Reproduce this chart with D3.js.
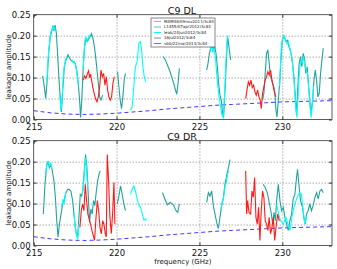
<!DOCTYPE html>
<html>
<head>
<meta charset="utf-8">
<script src="https://cdn.jsdelivr.net/npm/d3@7"></script>
<style>
   body { margin: 0; background: #fff; }
   svg { display: block; font-family: "DejaVu Sans", sans-serif; }
</style>
</head>
<body>
<svg id="chart" width="337" height="269"></svg>
<script>
// tick values
const freqTicks = [215, 220, 225, 230];
const ampTicks = [0.00, 0.05, 0.10, 0.15, 0.20, 0.25];

// legend entries (the red trace has no entry in the original)
const legendNames = ["MAM48/09nov2011/3c84", "L1455/07apr2012/3c84", "leak/24jun2012/3c84", "16jul2012/3c84", "vbb/22mar2013/3c84"];
const legendColors = ["#40e0d0", "#48c8c0", "#00ffff", "#5f9ea0", "#22a39c"];

// blue dashed reference curve (same in both panels)
const specCurve = [[215,0.021],[216,0.016],[217,0.013],[218,0.012],[219,0.013],[220,0.015],[221,0.018],[222,0.021],[223,0.025],
   [224,0.028],[225,0.031],[226,0.034],[227,0.036],[228,0.038],[229,0.040],[230,0.042],[231,0.043],[232,0.044],[233,0.045]];

// ---- C9 DL ----
const dlTeal = [
   [215.54,0.104],[215.64,0.078],[215.72,0.050],[215.80,0.086],[215.90,0.158],[216.00,0.197],[216.08,0.209],[216.14,0.221],[216.22,0.213],
   [216.29,0.225],[216.37,0.205],[216.45,0.150],[216.53,0.094],[216.61,0.046],[216.67,0.018],[216.75,0.070],[216.85,0.126],[216.95,0.142],
   [217.07,0.154],[217.17,0.146],[217.27,0.140],[217.39,0.138],[217.51,0.134],[217.61,0.114],[217.69,0.086],[217.77,0.046],[217.83,0.005],
   [217.91,0.054],[217.99,0.126],[218.07,0.174],[218.15,0.193],[218.23,0.186],[218.31,0.191],[218.39,0.197],[218.49,0.205],[218.59,0.191],
   [218.69,0.166],[218.80,0.126],[218.90,0.086],[218.98,0.054],[219.06,0.046],[219.16,0.058],
   null,
   [220.06,0.114],[220.14,0.078],[220.22,0.046],[220.30,0.026],[220.38,0.054],[220.46,0.094],[220.54,0.110],
   null,
   [222.81,0.150],[222.95,0.142],[223.11,0.126],[223.23,0.114],[223.39,0.094],[223.53,0.074],[223.63,0.060],[223.71,0.086],[223.79,0.122],
   null,
   [225.44,0.118],[225.52,0.134],[225.60,0.158],[225.68,0.170],[225.76,0.178],[225.84,0.166],[225.92,0.174],[226.00,0.158],[226.08,0.126],
   [226.16,0.086],[226.24,0.058],[226.32,0.046],[226.40,0.014],[226.46,0.006],[226.54,0.070],[226.62,0.134],[226.70,0.197],[226.76,0.181],
   [226.83,0.158],[226.89,0.142],
   null,
   [228.81,0.046],[228.89,0.062],[228.97,0.110],[229.05,0.158],[229.13,0.166],[229.21,0.134],[229.29,0.102],[229.38,0.090],[229.46,0.082],
   [229.54,0.070],[229.62,0.022],[229.68,0.006],[229.76,0.046],[229.84,0.086],[229.92,0.142],[230.00,0.189],[230.08,0.199],[230.16,0.193],
   [230.24,0.186],[230.32,0.189],[230.40,0.174],[230.48,0.166],[230.56,0.150],[230.64,0.126],[230.72,0.094],[230.80,0.046],[230.86,0.010],
   [230.94,0.078],[231.02,0.134],[231.10,0.150],[231.18,0.126],[231.26,0.158],[231.34,0.146],[231.42,0.110],[231.50,0.126],[231.58,0.086],
   [231.66,0.046],[231.74,0.014],[231.83,0.046],[231.91,0.094],[231.99,0.118],[232.07,0.094],[232.15,0.054],[232.23,0.062],[232.31,0.110],
   [232.39,0.142],[232.47,0.170]
];
const dlCyan = [
   [215.80,0.090],[215.86,0.140],[215.92,0.170],[216.00,0.200],[216.06,0.212],[216.12,0.215],[216.18,0.222],[216.24,0.214],[216.30,0.220],
   null,
   [216.58,0.060],[216.64,0.022],[216.70,0.040],[216.78,0.100],[216.86,0.132],[216.94,0.145],[217.00,0.150],
   null,
   [217.30,0.142],[217.38,0.135],[217.46,0.138],[217.54,0.128],[217.62,0.106],[217.70,0.080],
   null,
   [217.98,0.120],[218.04,0.160],[218.10,0.190],[218.16,0.196],[218.22,0.188],[218.28,0.194],[218.36,0.200],[218.42,0.196],
   null,
   [220.84,0.022],[220.94,0.030],[221.04,0.078],[221.14,0.126],[221.24,0.138],[221.35,0.182],[221.43,0.186],[221.51,0.166],[221.59,0.126],
   [221.67,0.102],[221.75,0.090],
   null,
   [225.64,0.165],[225.72,0.176],[225.80,0.160],[225.88,0.170],[225.96,0.150],[226.04,0.110],[226.12,0.075],[226.20,0.050],[226.28,0.030],
   [226.36,0.010],[226.44,0.004],[226.52,0.060],[226.60,0.140],[226.68,0.196],[226.72,0.200],
   null,
   [229.84,0.080],[229.90,0.140],[229.96,0.180],[230.04,0.196],[230.12,0.200],[230.20,0.188],[230.28,0.180],[230.36,0.186],[230.44,0.172],
   [230.52,0.158],[230.60,0.140],[230.68,0.110],[230.76,0.060],[230.82,0.030],[230.88,0.004],[230.96,0.060],[231.04,0.120],[231.12,0.140],
   [231.20,0.135],[231.28,0.150],[231.36,0.130],[231.44,0.118],[231.52,0.110],[231.60,0.070],[231.68,0.030],[231.74,0.004],[231.80,0.030],
   [231.88,0.080]
];
const dlRed = [
   [217.99,0.094],[218.07,0.104],[218.15,0.098],[218.23,0.108],[218.31,0.116],[218.37,0.100],[218.43,0.108],[218.51,0.090],[218.57,0.076],
   [218.65,0.062],[218.73,0.050],[218.82,0.042],[218.90,0.054],[218.98,0.078],[219.06,0.118],[219.14,0.102],[219.22,0.110],[219.30,0.082],
   [219.38,0.102],[219.46,0.070],[219.54,0.054],[219.62,0.046],[219.70,0.054],[219.78,0.086],[219.86,0.102],
   null,
   [227.79,0.050],[227.87,0.070],[227.95,0.090],[228.03,0.082],[228.11,0.094],[228.19,0.076],[228.27,0.082],[228.35,0.066],[228.43,0.058],
   [228.51,0.070],[228.59,0.054],[228.67,0.046],[228.73,0.026],[228.81,0.062],[228.89,0.078],[228.97,0.094],[229.05,0.102],[229.13,0.114],
   [229.21,0.106],[229.29,0.118],[229.38,0.094],[229.46,0.078],[229.54,0.062],[229.62,0.054]
];

// ---- C9 DR ----
const drTeal = [
   [215.58,0.075],[215.68,0.146],[215.78,0.190],[215.86,0.201],[215.94,0.186],[216.02,0.194],[216.12,0.178],[216.22,0.154],[216.31,0.115],
   [216.39,0.059],[216.47,0.020],[216.55,0.051],[216.65,0.075],[216.75,0.099],[216.85,0.111],[216.95,0.126],[217.05,0.134],[217.15,0.134],
   [217.25,0.129],[217.35,0.107],[217.45,0.067],[217.55,0.032],[217.65,0.020],[217.73,0.067],[217.81,0.122],[217.89,0.118],[217.97,0.134],
   [218.05,0.178],[218.13,0.217],[218.21,0.186],[218.29,0.122],[218.37,0.055],[218.45,0.087],[218.53,0.075],[218.61,0.107],[218.69,0.095],
   [218.78,0.130],[218.86,0.154],[218.94,0.170],[219.02,0.178],
   null,
   [220.04,0.099],[220.14,0.118],[220.24,0.142],[220.34,0.122],[220.44,0.099],[220.54,0.083],
   null,
   [222.77,0.126],[222.91,0.111],[223.07,0.097],[223.23,0.103],[223.43,0.097],[223.59,0.083],[223.69,0.079],[223.79,0.099],
   null,
   [225.44,0.103],[225.54,0.126],[225.64,0.118],[225.74,0.130],[225.84,0.095],[225.94,0.075],[226.04,0.055],[226.14,0.040],[226.24,0.067],
   [226.34,0.095],[226.44,0.111],[226.54,0.146],[226.64,0.166],[226.75,0.186],[226.85,0.205],
   null,
   [228.85,0.146],[228.97,0.138],[229.09,0.126],[229.21,0.103],[229.34,0.075],[229.42,0.051],[229.50,0.079],[229.58,0.059],[229.66,0.107],
   [229.76,0.146],[229.86,0.107],[229.96,0.083],[230.06,0.091],[230.16,0.067],[230.26,0.051],[230.36,0.036],[230.46,0.059],[230.56,0.075],
   [230.66,0.111],[230.76,0.122],[230.86,0.162],[230.92,0.182],[231.00,0.146],[231.10,0.107],[231.22,0.091],[231.30,0.067],[231.38,0.051],
   [231.46,0.075],[231.56,0.083],[231.66,0.099],[231.76,0.083],[231.86,0.095],[231.97,0.115],[232.07,0.126],[232.17,0.111],[232.27,0.130],
   [232.37,0.134],[232.47,0.126]
];
const drCyan = [
   [215.72,0.170],[215.80,0.196],[215.88,0.200],[215.96,0.190],[216.04,0.195],[216.10,0.182],
   null,
   [216.68,0.090],[216.76,0.110],[216.84,0.100],[216.92,0.125],
   null,
   [217.42,0.080],[217.50,0.045],[217.58,0.025],[217.66,0.015],[217.72,0.050],
   null,
   [217.92,0.120],[218.00,0.140],[218.08,0.190],[218.14,0.210],[218.20,0.170],[218.26,0.140],
   null,
   [220.84,0.122],[220.94,0.134],[221.04,0.142],[221.14,0.130],[221.24,0.111],[221.35,0.095],[221.45,0.091],[221.55,0.075],[221.65,0.061],
   [221.73,0.063],[221.81,0.059],
   null,
   [226.30,0.085],[226.38,0.105],[226.46,0.115],[226.54,0.140],[226.62,0.150],[226.70,0.170],[226.76,0.178],
   null,
   [229.66,0.099],[229.78,0.075],[229.90,0.059],[230.06,0.051],[230.22,0.067],[230.34,0.051],[230.46,0.036],[230.58,0.067],[230.70,0.091],
   [230.86,0.111],[230.98,0.122],[231.06,0.126],[231.16,0.122],[231.26,0.083],[231.36,0.051],[231.46,0.067]
];
const drRed = [
   [217.79,0.043],[217.87,0.083],[217.95,0.099],[218.03,0.083],[218.11,0.146],[218.19,0.107],[218.27,0.075],[218.35,0.063],[218.43,0.051],
   [218.51,0.036],[218.59,0.024],[218.67,0.012],[218.76,0.067],[218.84,0.107],[218.92,0.083],[219.00,0.043],[219.08,0.028],[219.16,0.059],
   [219.24,0.051],[219.32,0.028],[219.38,0.020],[219.44,0.217],[219.52,0.154],[219.60,0.067],[219.68,0.028],[219.76,0.075],[219.84,0.150],
   [219.90,0.051],
   null,
   [227.79,0.178],[227.85,0.075],[227.91,0.107],[227.99,0.079],[228.09,0.075],[228.17,0.130],[228.25,0.115],[228.33,0.162],[228.41,0.067],
   [228.49,0.051],[228.57,0.091],[228.65,0.012],[228.73,0.083],[228.81,0.130],[228.89,0.115],[228.97,0.059],[229.05,0.051],[229.13,0.036],
   [229.21,0.067],[229.29,0.028],[229.38,0.043],[229.46,0.067],[229.54,0.012],[229.62,0.043],[229.72,0.075],[229.82,0.059]
];

const svg = d3.select("#chart");
const x = d3.scaleLinear().domain([215, 233]).range([33.7, 332]);
const panelH = 104.8;

function drawPanel(top, title, teal, cyan, red, showLegend, showXLabel, id){
   const y = d3.scaleLinear().domain([0, 0.25]).range([top + panelH, top]);
   const g = svg.append("g");

   // dotted grid
   g.append("g")
      .attr("transform", `translate(0,${top + panelH})`)
      .call(d3.axisBottom(x).tickValues(freqTicks.slice(1)).tickSize(-panelH).tickFormat(""))
      .call(a => a.select(".domain").remove())
      .selectAll("line").attr("stroke", "#9a9a9a").attr("stroke-width", 0.6).attr("stroke-dasharray", "1,2");
   g.append("g")
      .attr("transform", `translate(33.7,0)`)
      .call(d3.axisLeft(y).tickValues(ampTicks.slice(1, -1)).tickSize(-(332 - 33.7)).tickFormat(""))
      .call(a => a.select(".domain").remove())
      .selectAll("line").attr("stroke", "#9a9a9a").attr("stroke-width", 0.6).attr("stroke-dasharray", "1,2");

   svg.append("clipPath").attr("id", "clip" + id)
      .append("rect").attr("x", 33.7).attr("y", top).attr("width", 332 - 33.7).attr("height", panelH);

   const line = d3.line().defined(d => d !== null).x(d => x(d[0])).y(d => y(d[1]));
   const plot = g.append("g").attr("clip-path", `url(#clip${id})`);

   plot.append("path").datum(specCurve).attr("d", line)
      .attr("fill", "none").attr("stroke", "#3a3aff").attr("stroke-width", 1).attr("stroke-dasharray", "4,3");
   plot.append("path").datum(teal).attr("d", line)
      .attr("fill", "none").attr("stroke", legendColors[4]).attr("stroke-width", 1.1);
   plot.append("path").datum(cyan).attr("d", line)
      .attr("fill", "none").attr("stroke", legendColors[2]).attr("stroke-width", 1.1);
   plot.append("path").datum(red).attr("d", line)
      .attr("fill", "none").attr("stroke", "#ff1a1a").attr("stroke-width", 1.1);

   // axes with inward ticks
   const xa = g.append("g").attr("transform", `translate(0,${top + panelH})`)
      .call(d3.axisBottom(x).tickValues(freqTicks).tickSize(-3).tickPadding(4.5).tickFormat(d3.format("d")));
   const ya = g.append("g").attr("transform", `translate(33.7,0)`)
      .call(d3.axisLeft(y).tickValues(ampTicks).tickSize(-3).tickPadding(3).tickFormat(d3.format(".2f")));
   g.append("g").attr("transform", `translate(0,${top})`)
      .call(d3.axisTop(x).tickValues(freqTicks).tickSize(-3).tickFormat(""));
   g.append("g").attr("transform", `translate(332,0)`)
      .call(d3.axisRight(y).tickValues(ampTicks).tickSize(-3).tickFormat(""));
   g.selectAll(".domain").remove();
   g.selectAll(".tick line").filter(function(){ return this.parentNode.parentNode.getAttribute("fill") !== null; })
      .attr("stroke", "#333");
   [xa, ya].forEach(a => a.selectAll("text").attr("font-size", 8.5).attr("fill", "#111").attr("font-family", "DejaVu Sans"));

   g.append("rect").attr("x", 33.7).attr("y", top).attr("width", 332 - 33.7).attr("height", panelH)
      .attr("fill", "none").attr("stroke", "#333").attr("stroke-width", 0.8);

   g.append("text").attr("x", 182).attr("y", top - 0.5).attr("text-anchor", "middle")
      .attr("font-size", 9.5).attr("fill", "#111").text(title);

   g.append("text").attr("transform", `translate(9.5,${top + panelH / 2}) rotate(-90)`)
      .attr("text-anchor", "middle").attr("dominant-baseline", "middle")
      .attr("font-size", 7).attr("fill", "#111").text("leakage amplitude");

   if(showXLabel){
      g.append("text").attr("x", 182.8).attr("y", top + panelH + 18).attr("text-anchor", "middle")
         .attr("font-size", 7).attr("fill", "#111").text("frequency (GHz)");
   }

   if(showLegend){
      const lg = g.append("g").attr("transform", "translate(151,18)");
      lg.append("rect").attr("width", 64).attr("height", 29)
         .attr("fill", "#fff").attr("stroke", "#555").attr("stroke-width", 0.7);
      legendNames.forEach((name, i) => {
         const ly = 3.5 + i * 5.5;
         lg.append("line").attr("x1", 3).attr("x2", 10).attr("y1", ly).attr("y2", ly)
            .attr("stroke", legendColors[i]).attr("stroke-width", 1);
         lg.append("text").attr("x", 13).attr("y", ly).attr("dominant-baseline", "middle")
            .attr("font-size", 4).attr("fill", "#222").text(name);
      });
   }
}

drawPanel(14.7, "C9 DL", dlTeal, dlCyan, dlRed, true, false, 1);
drawPanel(140.7, "C9 DR", drTeal, drCyan, drRed, false, true, 2);
</script>
</body>
</html>
